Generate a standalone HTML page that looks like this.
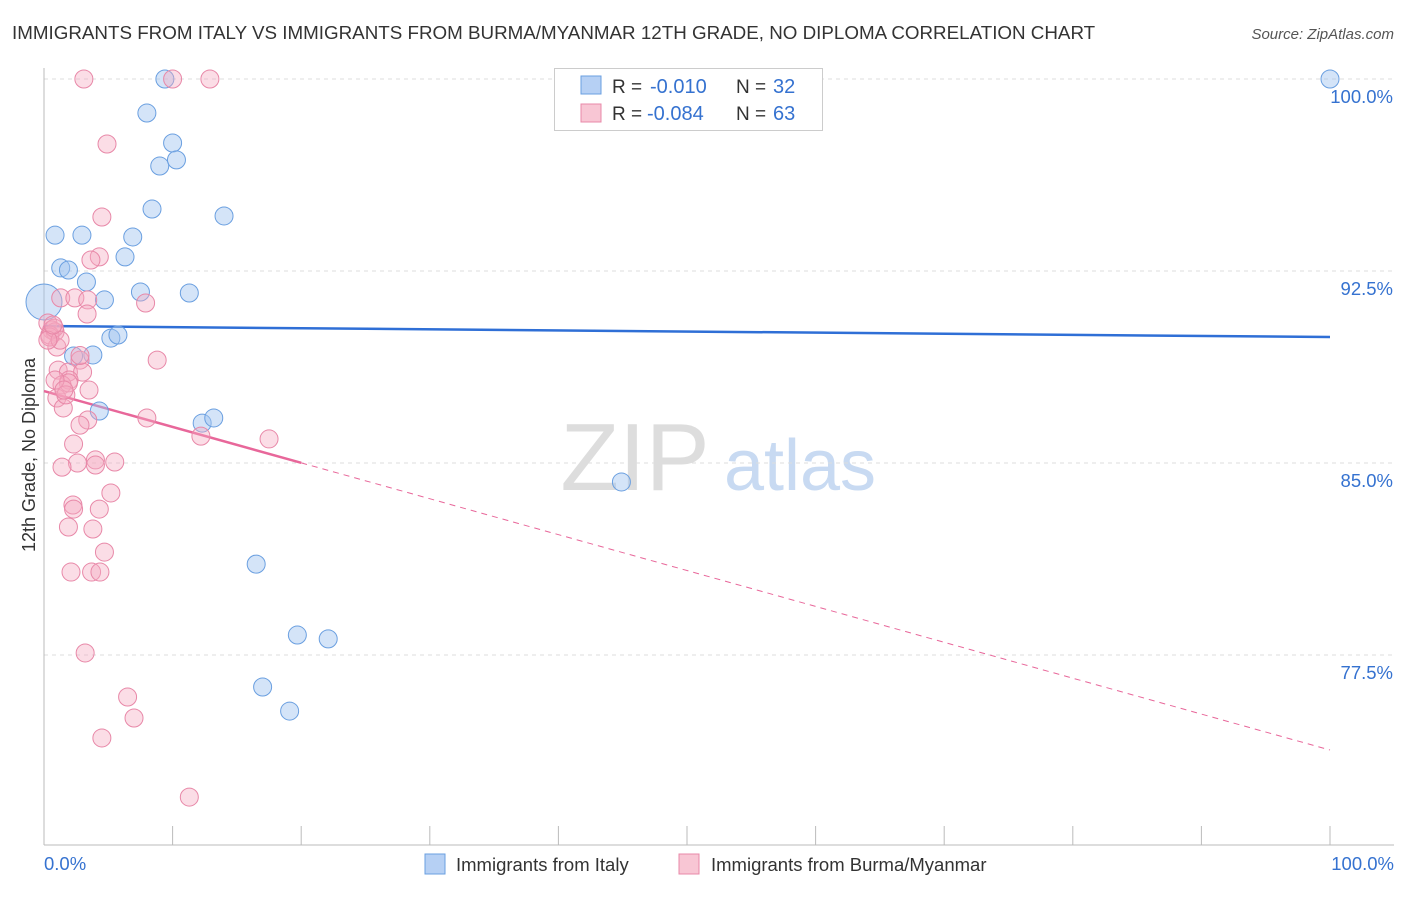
<!DOCTYPE html>
<html><head><meta charset="utf-8"><style>
body{margin:0;background:#fff;font-family:"Liberation Sans",sans-serif;}
svg text{font-family:"Liberation Sans",sans-serif;}
</style></head><body>
<svg id="chart" width="1406" height="892" xmlns="http://www.w3.org/2000/svg">
<text x="12" y="39" font-size="18.8" fill="#333">IMMIGRANTS FROM ITALY VS IMMIGRANTS FROM BURMA/MYANMAR 12TH GRADE, NO DIPLOMA CORRELATION CHART</text>
<text x="1394" y="39" font-size="15" fill="#555" text-anchor="end" font-style="italic">Source: ZipAtlas.com</text>
<text transform="translate(35,455) rotate(-90)" font-size="18" fill="#333" text-anchor="middle">12th Grade, No Diploma</text>
<g>
<text x="635" y="490" font-size="96" fill="#ddd" text-anchor="middle" font-family="Liberation Serif">ZIP</text>
<text x="800" y="490" font-size="72" fill="#c8daf2" text-anchor="middle">atlas</text>
</g>
<g id="grid"></g><g id="ticks"></g><g id="trends"></g><g id="pts"></g>
<g>
<rect x="554.5" y="68.5" width="268" height="62" fill="#fff" stroke="#ccc"/>
<rect x="581" y="76" width="20" height="18" fill="#b6d0f4" stroke="#6a9fe0"/>
<rect x="581" y="104" width="20" height="18" fill="#f8c6d4" stroke="#e888a8"/>
<text x="612" y="93" font-size="19" fill="#333">R = </text><text x="650" y="93" font-size="20" fill="#3572d0">-0.010</text>
<text x="736" y="93" font-size="19" fill="#333">N = </text><text x="773" y="93" font-size="20" fill="#3572d0">32</text>
<text x="612" y="120" font-size="19" fill="#333">R = </text><text x="647" y="120" font-size="20" fill="#3572d0">-0.084</text>
<text x="736" y="120" font-size="19" fill="#333">N = </text><text x="773" y="120" font-size="20" fill="#3572d0">63</text>
</g>
<g>
<rect x="425" y="854" width="20" height="20" fill="#b6d0f4" stroke="#6a9fe0"/>
<text x="456" y="871" font-size="18.5" fill="#333">Immigrants from Italy</text>
<rect x="679" y="854" width="20" height="20" fill="#f8c6d4" stroke="#e888a8"/>
<text x="711" y="871" font-size="18.5" fill="#333">Immigrants from Burma/Myanmar</text>
</g>
</svg>
<script>
const yTicks=[100,92.5,85,77.5];
const yTickLabels=["100.0%","92.5%","85.0%","77.5%"];
const xTickCount=10;
const italyX=[9.4,100,8.0,10.0,9.0,10.3,8.4,14.0,0.86,2.95,6.9,6.3,1.3,1.9,3.3,4.7,7.5,11.3,0,5.2,5.75,2.3,3.8,4.3,12.3,13.2,44.9,16.5,19.7,22.1,17.0,19.1];
const italyY=[100,100,98.67,97.5,96.6,96.84,94.92,94.65,93.9,93.9,93.83,93.05,92.62,92.54,92.07,91.37,91.68,91.64,91.29,89.88,90.0,89.18,89.22,87.03,86.56,86.76,84.26,81.05,78.28,78.13,76.25,75.31];
const burmaX=[3.1,10.0,12.9,4.9,4.5,4.3,3.65,1.3,2.4,3.4,3.35,7.9,0.3,0.6,0.86,0.45,1.0,2.8,8.8,1.1,1.9,3.0,1.95,1.4,1.9,3.5,1.0,1.5,3.4,2.8,8.0,12.2,17.5,2.3,2.6,4.0,5.5,4.0,1.4,5.2,2.25,4.3,2.3,1.9,3.8,4.7,2.1,3.7,4.35,3.2,6.5,7.0,4.5,11.3,0.45,0.8,1.7,1.25,0.86,2.8,1.55,0.3,0.7];
const burmaY=[100,100,100,97.46,94.61,93.05,92.93,91.45,91.45,91.37,90.82,91.25,90.47,90.2,90.12,90.0,89.53,89.02,89.02,88.63,88.55,88.55,88.24,88.05,88.13,87.85,87.54,87.15,86.68,86.48,86.76,86.05,85.94,85.74,85.0,85.12,85.04,84.92,84.84,83.83,83.36,83.2,83.2,82.5,82.42,81.52,80.74,80.74,80.74,77.58,75.86,75.04,74.26,71.95,89.92,90.27,87.66,89.8,88.24,89.2,87.85,89.8,90.39];
const italyTrend=[90.35,89.92];
const burmaTrend=[87.81,73.79];
const burmaSolidEnd=20;

const NS="http://www.w3.org/2000/svg";
const X0=44,X1=1330,Y100=79,PXPER=25.6,BOTTOM=845;
function sx(v){return X0+(X1-X0)*v/100;}
function sy(v){return Y100+(100-v)*PXPER;}
function mk(tag,attrs,parent){const e=document.createElementNS(NS,tag);for(const k in attrs)e.setAttribute(k,attrs[k]);document.getElementById(parent).appendChild(e);return e;}

yTicks.forEach((t,i)=>{
  const l=mk('line',{x1:X0,x2:1394,y1:sy(t),y2:sy(t),stroke:'#ddd','stroke-dasharray':'4,4'},'grid');
  
  
  const tx=mk('text',{x:1393,y:sy(t)+24,'font-size':18.5,fill:'#3572d0','text-anchor':'end'},'grid');
  tx.textContent=yTickLabels[i];
  
  
});
const ax=mk('line',{x1:X0,x2:X0,y1:68,y2:BOTTOM,stroke:'#bbb'},'ticks');


const bx=mk('line',{x1:X0,x2:1394,y1:BOTTOM,y2:BOTTOM,stroke:'#bbb'},'ticks');


for(let i=0;i<=xTickCount;i++){
  const x=sx(i*100/xTickCount);
  const t=mk('line',{x1:x,x2:x,y1:826,y2:BOTTOM,stroke:'#bbb'},'ticks');
  
  
}
const xl0=mk('text',{x:44,y:870,'font-size':18.5,fill:'#3572d0'},'ticks');xl0.textContent='0.0%';


const xl1=mk('text',{x:1394,y:870,'font-size':18.5,fill:'#3572d0','text-anchor':'end'},'ticks');xl1.textContent='100.0%';



italyX.forEach((v,i)=>{
  const big=(v===0);
  const c=mk('circle',{cx:sx(v),cy:sy(italyY[i]),r:big?18:9,fill:'rgba(160,196,240,0.45)',stroke:'#6a9fe0','stroke-width':1},'pts');
  
  
});
burmaX.forEach((v,i)=>{
  const c=mk('circle',{cx:sx(v),cy:sy(burmaY[i]),r:9,fill:'rgba(244,170,192,0.4)',stroke:'#e888a8','stroke-width':1},'pts');
  
  
});
const bt=mk('line',{x1:sx(0),y1:sy(italyTrend[0]),x2:sx(100),y2:sy(italyTrend[1]),stroke:'#2f6fd6','stroke-width':2.5},'trends');


const midY=burmaTrend[0]+(burmaTrend[1]-burmaTrend[0])*burmaSolidEnd/100;
const pt=mk('line',{x1:sx(0),y1:sy(burmaTrend[0]),x2:sx(burmaSolidEnd),y2:sy(midY),stroke:'#e8679a','stroke-width':2.5},'trends');


const pd=mk('line',{x1:sx(burmaSolidEnd),y1:sy(midY),x2:sx(100),y2:sy(burmaTrend[1]),stroke:'#e8679a','stroke-width':1,'stroke-dasharray':'6,5'},'trends');


</script>
</body></html>
